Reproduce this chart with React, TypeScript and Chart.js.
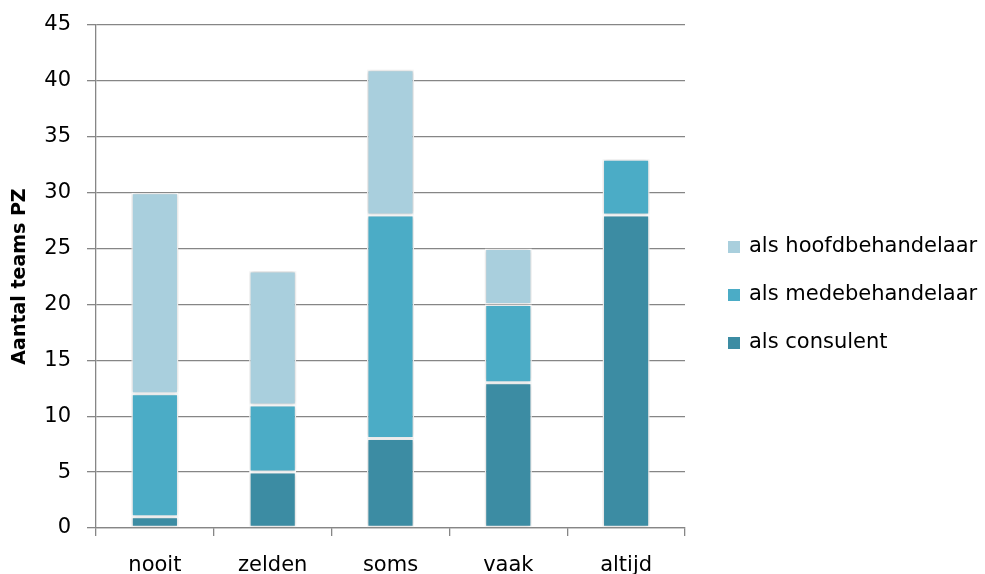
import React, { useEffect, useRef } from "react";
import { Chart, registerables } from "chart.js";

Chart.register(...registerables);

const categories = ["nooit", "zelden", "soms", "vaak", "altijd"];
const consulent = [1, 5, 8, 13, 28];
const medebehandelaar = [11, 6, 20, 7, 5];
const hoofdbehandelaar = [18, 12, 13, 5, 0];
const seriesNames = ["als consulent", "als medebehandelaar", "als hoofdbehandelaar"];
const seriesColors = ["#3C8CA3", "#4BACC6", "#A9CFDD"];
const yTitle = "Aantal teams PZ";

const FONT = "'DejaVu Sans', sans-serif";
const GRID = "#868686";

// Legend drawn at the right of the plot, top entry = last series
const sideLegend = {
  id: "sideLegend",
  afterDraw(chart: any) {
    const ctx = chart.ctx;
    const ds = chart.data.datasets;
    ctx.save();
    ctx.font = `21px ${FONT}`;
    ctx.textBaseline = "middle";
    ctx.textAlign = "left";
    const x = 728;
    const yTop = 247;
    const step = 48;
    for (let i = ds.length - 1, k = 0; i >= 0; i--, k++) {
      const y = yTop + k * step;
      ctx.fillStyle = ds[i].backgroundColor;
      ctx.fillRect(x, y - 6, 12, 12);
      ctx.fillStyle = "#000";
      ctx.fillText(ds[i].label, x + 21, y);
    }
    ctx.restore();
  },
};

// Soft shadow behind the bars
const barShadow = {
  id: "barShadow",
  beforeDatasetsDraw(chart: any) {
    const ctx = chart.ctx;
    ctx.save();
    ctx.shadowColor = "rgba(0,0,0,0.22)";
    ctx.shadowBlur = 4;
  },
  afterDatasetsDraw(chart: any) {
    chart.ctx.restore();
  },
};

export default function App() {
  const ref = useRef<HTMLCanvasElement | null>(null);

  useEffect(() => {
    if (!ref.current) return;
    const values = [consulent, medebehandelaar, hoofdbehandelaar];
    const chart = new Chart(ref.current, {
      type: "bar",
      data: {
        labels: categories,
        datasets: values.map((v, i) => ({
          label: seriesNames[i],
          data: v,
          backgroundColor: seriesColors[i],
          borderColor: "#FFFFFF",
          borderWidth: 1.5,
          borderSkipped: false,
          categoryPercentage: 1,
          barPercentage: 0.4,
        })),
      },
      options: {
        animation: false,
        responsive: false,
        maintainAspectRatio: false,
        layout: { padding: { left: 0, right: 300, top: 25, bottom: 0 } },
        plugins: {
          legend: { display: false },
          tooltip: { enabled: false },
        },
        scales: {
          x: {
            stacked: true,
            afterFit(scale: any) {
              scale.height = 46;
            },
            grid: {
              display: true,
              offset: true,
              drawOnChartArea: false,
              drawTicks: true,
              tickLength: 8,
              color: GRID,
              lineWidth: 1.3,
            },
            border: { display: true, color: GRID, width: 1.3 },
            ticks: {
              color: "#000",
              font: { family: FONT, size: 21 },
              padding: 17,
            },
          },
          y: {
            stacked: true,
            min: 0,
            max: 45,
            afterFit(scale: any) {
              scale.width = 96;
              scale.paddingTop = 0;
              scale.paddingBottom = 0;
            },
            ticks: {
              stepSize: 5,
              color: "#000",
              font: { family: FONT, size: 21 },
              padding: 16,
            },
            grid: {
              color: GRID,
              lineWidth: 1.3,
              tickLength: 9,
            },
            border: { display: true, color: GRID, width: 1.3 },
            title: {
              display: true,
              text: yTitle,
              color: "#000",
              font: { family: FONT, size: 19, weight: "bold" },
              padding: { top: 9, bottom: 0 },
            },
          },
        },
      },
      plugins: [sideLegend, barShadow],
    });
    return () => chart.destroy();
  }, []);

  return (
    <div style={{ position: "fixed", left: 0, top: 0, width: 985, height: 574, background: "#fff" }}>
      <canvas ref={ref} width={985} height={574} style={{ width: 985, height: 574, display: "block" }} />
    </div>
  );
}
